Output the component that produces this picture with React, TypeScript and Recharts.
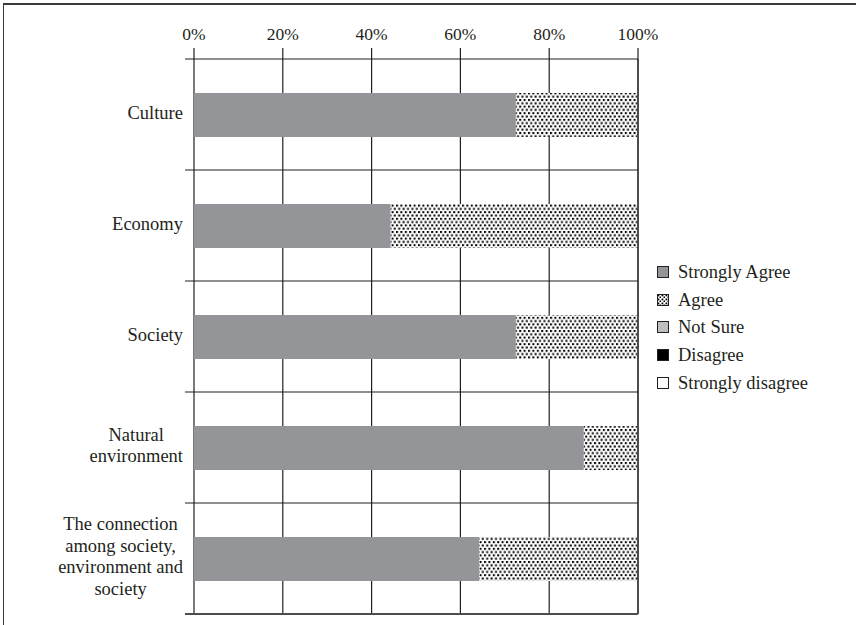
import React from 'react';
import { BarChart, Bar, XAxis, YAxis, CartesianGrid, Legend, ReferenceLine } from 'recharts';

const categories = ['Culture', 'Economy', 'Society', 'Natural environment', 'The connection among society, environment and society'];
const categoryLines = [
  ['Culture'],
  ['Economy'],
  ['Society'],
  ['Natural', 'environment'],
  ['The connection', 'among society,', 'environment and', 'society'],
];
const stronglyAgree = [72.5, 44.3, 72.5, 87.8, 64.2];
const agree = [27.5, 55.7, 27.5, 12.2, 35.8];
const notSure = [0, 0, 0, 0, 0];
const disagree = [0, 0, 0, 0, 0];
const stronglyDisagree = [0, 0, 0, 0, 0];
const xTicks = [0, 20, 40, 60, 80, 100];

const seriesNames = ['Strongly Agree', 'Agree', 'Not Sure', 'Disagree', 'Strongly disagree'];
const seriesKeys = ['sa', 'a', 'ns', 'd', 'sd'];
const seriesFills = ['#939598', 'url(#dots)', '#bcbec0', '#000000', '#ffffff'];

const data = categories.map((name, i) => ({
  name,
  sa: stronglyAgree[i],
  a: agree[i],
  ns: notSure[i],
  d: disagree[i],
  sd: stronglyDisagree[i],
}));

const FONT = "'Liberation Serif', 'Times New Roman', serif";
const W = 856;
const H = 625;
const MARGIN = { top: 19, right: 218, bottom: 11, left: 0 };
const X_AXIS_H = 40;
const Y_AXIS_W = 194;
const PLOT_W = W - MARGIN.left - MARGIN.right - Y_AXIS_W;
const PLOT_H = H - MARGIN.top - MARGIN.bottom - X_AXIS_H;
const BAND = PLOT_H / categories.length;
const LH = 21.7;
const LINE = '#231f20';

let measureCtx: CanvasRenderingContext2D | null = null;
function measure(text: string): number {
  if (!measureCtx) {
    const c = document.createElement('canvas');
    measureCtx = c.getContext('2d');
  }
  if (!measureCtx) return text.length * 8;
  measureCtx.font = `18.5px ${FONT}`;
  return measureCtx.measureText(text).width;
}

function CategoryTick(props: any) {
  const { x, y, payload } = props;
  const idx = categories.indexOf(payload.value);
  const lines = categoryLines[idx] || [String(payload.value)];
  const maxW = Math.max(...lines.map(measure));
  const cx = x - 11 - maxW / 2;
  const y0 = y - ((lines.length - 1) / 2) * LH + 4;
  const isLast = idx === categories.length - 1;
  return (
    <g>
      <line x1={x - 9} x2={x + PLOT_W} y1={y - BAND / 2} y2={y - BAND / 2} stroke={LINE} strokeWidth={1.2} />
      {isLast && (
        <line x1={x - 9} x2={x + PLOT_W} y1={y + BAND / 2} y2={y + BAND / 2} stroke="#4d4d4d" strokeWidth={2} />
      )}
      {lines.map((t, i) => (
        <text key={i} x={cx} y={y0 + i * LH} textAnchor="middle" fill="#231f20" fontFamily={FONT} fontSize={18.5}>
          {t}
        </text>
      ))}
    </g>
  );
}

function LegendContent() {
  return (
    <div style={{ fontFamily: FONT, fontSize: 18.5, color: '#231f20' }}>
      {seriesNames.map((n, i) => (
        <div key={n} style={{ height: 27.8, display: 'flex', alignItems: 'center' }}>
          <svg width={12} height={12} style={{ marginRight: 9, flex: 'none' }}>
            <defs>
              <pattern id={`ldots${i}`} patternUnits="userSpaceOnUse" width={4} height={4}>
                <rect width={4} height={4} fill="#fff" />
                <rect x={0.5} y={0.5} width={1.8} height={1.8} fill="#000" />
                <rect x={2.5} y={2.5} width={1.8} height={1.8} fill="#000" />
              </pattern>
            </defs>
            <rect
              x={0.5}
              y={0.5}
              width={11}
              height={11}
              fill={i === 1 ? `url(#ldots${i})` : seriesFills[i]}
              stroke={LINE}
              strokeWidth={1}
            />
          </svg>
          <span style={{ lineHeight: '18px', whiteSpace: 'nowrap' }}>{n}</span>
        </div>
      ))}
    </div>
  );
}

export default function App() {
  return (
    <div style={{ position: 'absolute', left: 0, top: 0, width: W, height: H, background: '#fff', overflow: 'hidden' }}>
      <div
        style={{
          position: 'absolute',
          left: 3,
          top: 3,
          width: 900,
          height: 700,
          borderTop: '2px solid #3a3a3a',
          borderLeft: '1.5px solid #3a3a3a',
        }}
      />
      <BarChart
        width={W}
        height={H}
        data={data}
        layout="vertical"
        margin={MARGIN}
        barSize={44}
        style={{ position: 'absolute', left: 0, top: 0 }}
      >
        <defs>
          <pattern id="dots" patternUnits="userSpaceOnUse" width={4.4} height={6.6}>
            <rect width={4.4} height={6.6} fill="#fff" />
            <rect x={0} y={0} width={2} height={2} fill="#000" />
            <rect x={2.2} y={3.3} width={2} height={2} fill="#000" />
          </pattern>
        </defs>
        <CartesianGrid horizontal={false} vertical={true} stroke={LINE} strokeWidth={1.2} />
        <XAxis
          type="number"
          orientation="top"
          domain={[0, 100]}
          ticks={xTicks}
          tickFormatter={(v: number) => `${v}%`}
          axisLine={false}
          tickLine={{ stroke: LINE, strokeWidth: 1.2 }}
          tickSize={11}
          tickMargin={8}
          height={X_AXIS_H}
          tick={{ fill: '#231f20', fontFamily: FONT, fontSize: 17.5 }}
          interval={0}
        />
        <YAxis
          type="category"
          dataKey="name"
          width={Y_AXIS_W}
          axisLine={false}
          tickLine={false}
          tickSize={0}
          tickMargin={0}
          interval={0}
          tick={<CategoryTick />}
        />
        <ReferenceLine x={100} stroke="#4d4d4d" strokeWidth={2} />
        {seriesKeys.map((k, i) => (
          <Bar key={k} dataKey={k} name={seriesNames[i]} stackId="s" fill={seriesFills[i]} isAnimationActive={false} />
        ))}
        <Legend
          layout="vertical"
          align="center"
          verticalAlign="middle"
          content={<LegendContent />}
          wrapperStyle={{ left: 657, top: 258, width: 195, height: 140 }}
        />
      </BarChart>
    </div>
  );
}
